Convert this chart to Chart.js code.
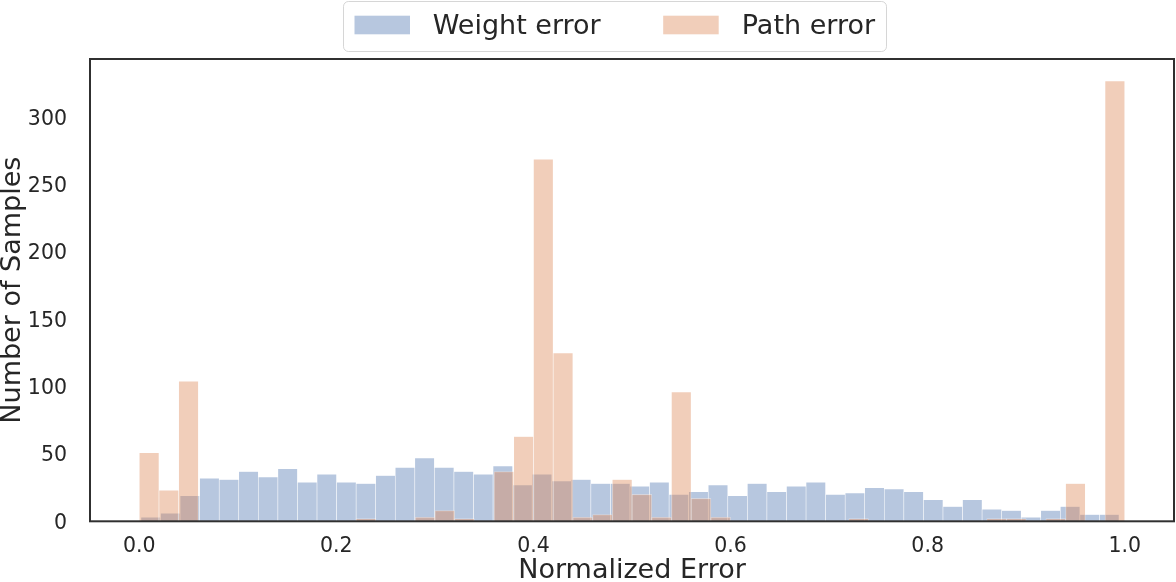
<!DOCTYPE html>
<html>
<head>
<meta charset="utf-8">
<script src="https://cdn.jsdelivr.net/npm/chart.js@4.4.1/dist/chart.umd.min.js"></script>
<style>
  html, body { margin: 0; padding: 0; background: #fff; }
  #wrap { width: 1176px; height: 582px; }
</style>
</head>
<body>
<div id="wrap"><canvas id="chart" width="1176" height="582"></canvas></div>
<script>
// histogram counts, 50 bins each
const seriesNames = ['Weight error', 'Path error'];
const weightCounts = [
  3, 6, 19, 32, 31, 37, 33, 39, 29, 35,
  29, 28, 34, 40, 47, 40, 37, 35, 41, 27,
  35, 30, 31, 28, 28, 26, 29, 20, 22, 27,
  19, 28, 22, 26, 29, 20, 21, 25, 24, 22,
  16, 11, 16, 9, 8, 3, 8, 11, 5, 5
];
const pathCounts = [
  51, 23, 104, 0, 0, 0, 0, 0, 0, 0,
  0, 2, 0, 0, 3, 8, 2, 0, 37, 63,
  269, 125, 3, 5, 31, 20, 3, 96, 17, 3,
  0, 0, 0, 0, 0, 0, 2, 0, 0, 0,
  0, 0, 0, 2, 2, 0, 2, 28, 0, 327
];
// bin range of each histogram (the two series were binned separately)
const weightRange = [0.0017, 0.9942];
const pathRange = [0, 1];
const xTicks = [0, 0.2, 0.4, 0.6, 0.8, 1.0];
const yTicks = [0, 50, 100, 150, 200, 250, 300];

const FONT = "'DejaVu Sans', sans-serif";
const TEXT = '#262626';
const fills = ['rgba(76, 114, 176, 0.4)', 'rgba(221, 132, 82, 0.4)'];

function toPoints(counts, range) {
    const w = (range[1] - range[0]) / counts.length;
    return counts.map((c, i) => ({ x: range[0] + (i + 0.5) * w, y: c }));
}

const setTicks = values => scale => {
    scale.ticks = values.map(v => ({ value: v }));
};

// spines around the plot + framed legend above it
const framePlugin = {
    id: 'frame',
    afterDatasetsDraw(chart) {
        const { ctx, chartArea: a } = chart;
        ctx.save();
        ctx.strokeStyle = '#303030';
        ctx.lineWidth = 2;
        ctx.strokeRect(a.left, a.top, a.right - a.left, a.bottom - a.top);
        ctx.restore();
    },
    afterDraw(chart) {
        const ctx = chart.ctx;
        ctx.save();
        ctx.beginPath();
        ctx.roundRect(343.5, 1.5, 543, 50, 5);
        ctx.fillStyle = 'rgba(255,255,255,0.8)';
        ctx.fill();
        ctx.strokeStyle = 'rgba(204,204,204,0.8)';
        ctx.lineWidth = 1;
        ctx.stroke();

        const items = [
            { box: 354.5, text: 432.7 },
            { box: 663.2, text: 741.8 }
        ];
        ctx.font = '27px ' + FONT;
        ctx.textBaseline = 'alphabetic';
        ctx.textAlign = 'left';
        chart.data.datasets.forEach((ds, i) => {
            ctx.fillStyle = ds.backgroundColor;
            ctx.fillRect(items[i].box, 15.7, 55.5, 18.6);
            ctx.fillStyle = TEXT;
            ctx.fillText(ds.label, items[i].text, 34.3);
        });
        ctx.restore();
    }
};

const barStyle = {
    grouped: false,
    borderColor: 'rgba(255,255,255,0.4)',
    borderWidth: 0.6,
    barPercentage: 1,
    categoryPercentage: 1
};

new Chart(document.getElementById('chart'), {
    type: 'bar',
    data: {
        datasets: [{
            ...barStyle,
            label: seriesNames[0],
            data: toPoints(weightCounts, weightRange),
            xAxisID: 'x',
            order: 1,
            backgroundColor: fills[0]
        }, {
            ...barStyle,
            label: seriesNames[1],
            data: toPoints(pathCounts, pathRange),
            xAxisID: 'x2',
            order: 0,
            backgroundColor: fills[1]
        }]
    },
    options: {
        responsive: false,
        animation: false,
        layout: {
            padding: { top: 59, right: 2, left: 0, bottom: 0 }
        },
        plugins: {
            legend: { display: false },
            tooltip: { enabled: false }
        },
        scales: {
            x: {
                type: 'linear',
                min: -0.05,
                max: 1.05,
                offset: false,
                grid: { display: false },
                border: { display: false },
                afterBuildTicks: setTicks(xTicks),
                afterFit: s => { s.height = 60.7; },
                ticks: {
                    padding: 5,
                    color: TEXT,
                    font: { family: FONT, size: 20.5 },
                    callback: v => v.toFixed(1)
                },
                title: {
                    display: true,
                    text: 'Normalized Error',
                    color: TEXT,
                    font: { family: FONT, size: 27, lineHeight: 1 },
                    padding: { top: 0, bottom: -2.5 }
                }
            },
            x2: {
                type: 'linear',
                min: -0.05,
                max: 1.05,
                offset: false,
                display: false,
                afterBuildTicks: setTicks(xTicks)
            },
            y: {
                min: 0,
                max: 343.35,
                grid: { display: false },
                border: { display: false },
                afterBuildTicks: setTicks(yTicks),
                afterFit: s => { s.width = 90; },
                ticks: {
                    padding: 15,
                    labelOffset: 2,
                    color: TEXT,
                    font: { family: FONT, size: 20.5 }
                },
                title: {
                    display: true,
                    text: 'Number of Samples',
                    color: TEXT,
                    font: { family: FONT, size: 27, lineHeight: 1 },
                    padding: { top: -1, bottom: 0 }
                }
            }
        }
    },
    plugins: [framePlugin]
});
</script>
</body>
</html>
